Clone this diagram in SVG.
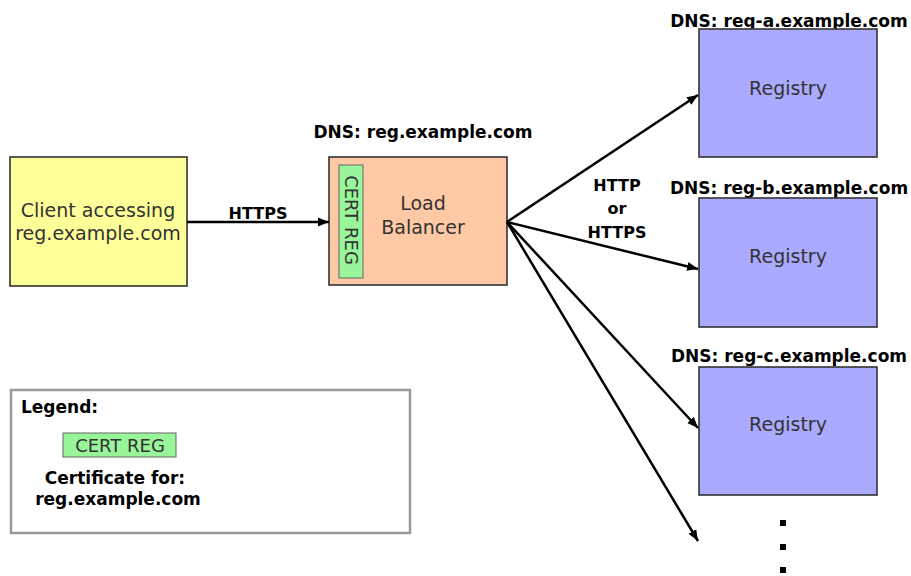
<svg xmlns="http://www.w3.org/2000/svg" width="911" height="576" viewBox="0 0 911 576">
<defs>
<marker id="ah" markerUnits="userSpaceOnUse" markerWidth="12" markerHeight="10" refX="11" refY="5" orient="auto">
<path d="M0,0.5 L11,5 L0,9.5 Z" fill="#000"/>
</marker>
<style>
.box{stroke:#333;stroke-width:1.6}
.reg{font-family:"DejaVu Sans",sans-serif;font-size:19px;fill:#333;text-anchor:middle}
.b{font-family:"DejaVu Sans",sans-serif;font-weight:bold;font-size:16px;fill:#000;text-anchor:middle}
.lg{font-family:"DejaVu Sans",sans-serif;font-weight:bold;font-size:17px;fill:#000;text-anchor:middle}
.dns{font-family:"DejaVu Sans",sans-serif;font-weight:bold;font-size:17px;fill:#000;text-anchor:middle}
.cert{font-family:"DejaVu Sans",sans-serif;font-size:18px;fill:#333;text-anchor:middle}
.conn{stroke:#000;stroke-width:2.5;fill:none;marker-end:url(#ah)}
</style>
</defs>
<rect width="911" height="576" fill="#fff"/>

<g id="client">
<rect class="box" x="10" y="157" width="177" height="129" fill="#ffff99"/>
<text class="reg" x="98" y="217">Client accessing</text>
<text class="reg" x="98" y="240">reg.example.com</text>
</g>

<g id="loadbalancer">
<text class="dns" x="423" y="138">DNS: reg.example.com</text>
<rect class="box" x="329" y="157" width="178" height="128" fill="#ffc9a6"/>
<rect x="339" y="165" width="24" height="113" fill="#99f599" stroke="#666" stroke-width="1"/>
<text class="cert" transform="translate(345,220) rotate(90)" x="0" y="0">CERT REG</text>
<text class="reg" x="423" y="210">Load</text>
<text class="reg" x="423" y="234">Balancer</text>
</g>

<g id="registry-a">
<text class="dns" x="789" y="27">DNS: reg-a.example.com</text>
<rect class="box" x="699" y="29" width="178" height="128" fill="#aaaaff"/>
<text class="reg" x="788" y="95">Registry</text>
</g>

<g id="registry-b">
<text class="dns" x="789" y="194">DNS: reg-b.example.com</text>
<rect class="box" x="699" y="198" width="178" height="129" fill="#aaaaff"/>
<text class="reg" x="788" y="263">Registry</text>
</g>

<g id="registry-c">
<text class="dns" x="789" y="362">DNS: reg-c.example.com</text>
<rect class="box" x="699" y="367" width="178" height="128" fill="#aaaaff"/>
<text class="reg" x="788" y="431">Registry</text>
</g>

<g id="more">
<rect x="780" y="520" width="6" height="6" fill="#000"/>
<rect x="780" y="544" width="6" height="6" fill="#000"/>
<rect x="780" y="567" width="6" height="6" fill="#000"/>
</g>

<g id="connectors">
<line class="conn" x1="187" y1="222" x2="329" y2="222"/>
<text class="b" x="258" y="219">HTTPS</text>
<line class="conn" x1="507" y1="222" x2="698" y2="95"/>
<line class="conn" x1="507" y1="222" x2="698" y2="269"/>
<line class="conn" x1="507" y1="222" x2="698" y2="428"/>
<line class="conn" x1="507" y1="222" x2="698" y2="541"/>
<text class="b" x="617" y="191">HTTP</text>
<text class="b" x="617" y="214">or</text>
<text class="b" x="617" y="238">HTTPS</text>
</g>

<g id="legend">
<rect x="11" y="390" width="399" height="143" fill="#fff" stroke="#999" stroke-width="2.5"/>
<text class="lg" x="21" y="413" style="text-anchor:start">Legend:</text>
<rect x="63" y="433" width="113" height="24" fill="#99f599" stroke="#666" stroke-width="1"/>
<text class="cert" x="120" y="452">CERT REG</text>
<text class="lg" x="115" y="484">Certificate for:</text>
<text class="lg" x="118" y="505">reg.example.com</text>
</g>
</svg>
